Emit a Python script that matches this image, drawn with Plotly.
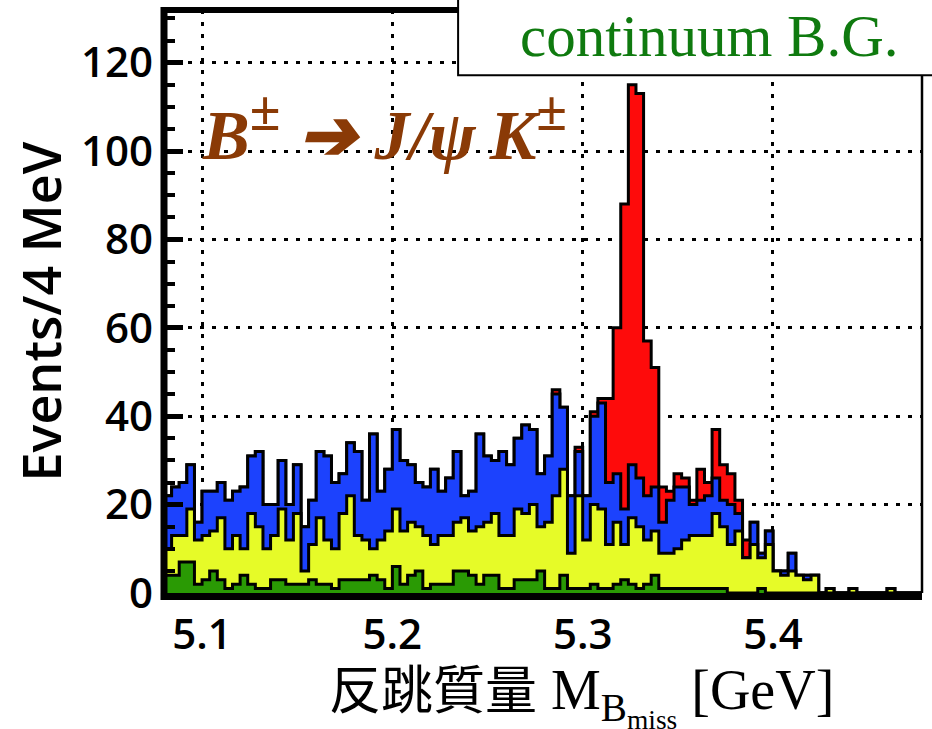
import numpy as np
import plotly.graph_objects as go

# 4 MeV bins from 5.08 GeV, 100 bins; each list is the top of one stacked histogram
bin_lo = 5.08
bin_w = 0.004

continuum_bg = [
    4, 4, 7, 7, 2, 3, 5, 3, 1, 2, 4, 2, 1, 1, 3, 3, 2, 2, 2, 3,
    2, 2, 1, 3, 3, 3, 3, 4, 3, 1, 6, 2, 4, 5, 1, 2, 2, 2, 5, 5,
    4, 2, 4, 4, 1, 1, 3, 3, 3, 5, 1, 1, 4, 1, 1, 1, 2, 1, 1, 2,
    3, 2, 1, 2, 4, 1, 1, 1, 1, 1, 1, 1, 1, 1, 0, 0, 0, 0, 1, 0,
    0, 0, 0, 0, 0, 0, 0, 0, 0, 0, 0, 0, 0, 0, 0, 0, 0, 0, 0, 0,
]
stack_yellow = [
    10, 13, 13, 19, 12, 13, 14, 17, 10, 13, 10, 18, 15, 10, 13, 19, 12, 18, 5, 11,
    17, 12, 10, 18, 22, 13, 12, 10, 12, 14, 19, 14, 16, 15, 13, 11, 13, 13, 16, 17,
    14, 15, 16, 18, 13, 13, 19, 18, 20, 15, 16, 22, 28, 9, 22, 12, 20, 19, 11, 16,
    11, 17, 15, 12, 14, 9, 9, 10, 12, 13, 13, 13, 18, 15, 11, 14, 8, 11, 8, 11,
    5, 4, 5, 4, 3, 4, 0, 1, 0, 0, 1, 0, 0, 0, 0, 1, 0, 0, 0, 0,
]
stack_blue = [
    22, 24, 25, 29, 16, 23, 23, 25, 21, 23, 24, 31, 32, 20, 20, 30, 20, 29, 15, 21,
    32, 31, 25, 27, 34, 32, 21, 36, 23, 28, 37, 30, 29, 25, 24, 28, 23, 26, 32, 22,
    23, 36, 31, 30, 32, 29, 35, 38, 37, 27, 31, 45, 42, 22, 32, 22, 40, 43, 25, 27,
    19, 29, 26, 22, 24, 16, 21, 24, 24, 20, 21, 22, 26, 21, 20, 18, 8, 16, 9, 14,
    5, 5, 9, 4, 4, 4, 0, 1, 0, 0, 1, 0, 0, 0, 0, 1, 0, 0, 0, 0,
]
stack_total = [
    22, 24, 25, 29, 16, 23, 23, 25, 21, 23, 24, 31, 32, 20, 20, 30, 20, 29, 15, 21,
    32, 31, 25, 27, 34, 32, 21, 36, 23, 28, 37, 30, 29, 25, 24, 28, 23, 26, 32, 22,
    23, 36, 31, 30, 32, 29, 35, 38, 37, 27, 31, 46, 42, 22, 33, 22, 41, 44, 44, 60,
    88, 115, 113, 57, 51, 24, 23, 27, 26, 21, 28, 25, 37, 29, 27, 21, 12, 16, 9, 14,
    5, 5, 9, 4, 4, 4, 0, 1, 0, 0, 1, 0, 0, 0, 0, 1, 0, 0, 0, 0,
]

x_ticks = [5.1, 5.2, 5.3, 5.4]
y_ticks = [0, 20, 40, 60, 80, 100, 120]

RED = "#fe0b0b"
BLUE = "#1c42fd"
YELLOW = "#e6fb28"
GREEN = "#2a9a04"
BROWN = "#8a3a06"
LABEL_GREEN = "#0f7a0f"

edges = bin_lo + bin_w * np.arange(len(stack_total) + 1)

fig = go.Figure()

for vals, col in [(stack_total, RED), (stack_blue, BLUE),
                  (stack_yellow, YELLOW), (continuum_bg, GREEN)]:
    fig.add_trace(go.Scatter(
        x=edges, y=list(vals) + [vals[-1]],
        mode="lines", line=dict(shape="hv", color="black", width=3),
        fill="tozeroy", fillcolor=col, showlegend=False, hoverinfo="skip",
    ))

tick_font = dict(family="Open Sans", size=42, color="black", weight=600)

fig.update_layout(
    width=932, height=729,
    paper_bgcolor="white", plot_bgcolor="white",
    margin=dict(l=164, r=10, t=10, b=136),
    showlegend=False,
    xaxis=dict(
        range=[5.08, 5.4783], tickmode="array", tickvals=x_ticks,
        ticktext=[f"{v:.1f}" for v in x_ticks],
        showgrid=True, gridcolor="black", gridwidth=3, griddash="4px,8px",
        zeroline=False, showline=False, ticks="",
        tickfont=tick_font, ticklabelstandoff=13,
    ),
    yaxis=dict(
        range=[0, 131.9], tickmode="array", tickvals=y_ticks,
        showgrid=True, gridcolor="black", gridwidth=3, griddash="4px,8px",
        zeroline=False, showline=False,
        ticks="inside", ticklen=19, tickwidth=5, tickcolor="black",
        minor=dict(ticks="inside", ticklen=11, tickwidth=4, tickcolor="black",
                   dtick=5, tick0=0, showgrid=False),
        tickfont=tick_font, ticklabelstandoff=10,
    ),
)

# frame: thick left/bottom/top, thin right
fig.add_shape(type="line", xref="paper", yref="paper", x0=1, x1=1, y0=0, y1=1,
              line=dict(color="black", width=2.5))
fig.add_shape(type="line", xref="paper", yref="paper", x0=0, x1=1, y0=1, y1=1,
              line=dict(color="black", width=6))
fig.add_shape(type="line", xref="paper", yref="paper", x0=0, x1=0, y0=-0.012, y1=1.005,
              line=dict(color="black", width=7))
fig.add_shape(type="line", xref="paper", yref="paper", x0=-0.004, x1=1.0, y0=-0.006, y1=-0.006,
              line=dict(color="black", width=7))

# label box
fig.add_shape(type="rect", xref="paper", yref="paper",
              x0=0.388, x1=1.03, y0=0.888, y1=1.03,
              fillcolor="white", line=dict(color="black", width=2))
fig.add_annotation(xref="paper", yref="paper", x=0.7197, y=0.955,
                   xanchor="center", yanchor="middle",
                   text="continuum B.G.", showarrow=False,
                   font=dict(family="Liberation Serif", size=59, color=LABEL_GREEN))

pm = "<sup><span style='font-size:56px'>±</span></sup>"
fig.add_annotation(xref="paper", yref="paper", x=0.047, y=0.80,
                   xanchor="left", yanchor="middle", showarrow=False,
                   text=f"<b><i>B{pm} ➔ J/ψ\u2009K{pm}</i></b>",
                   font=dict(family="Liberation Serif", size=70, color=BROWN))

fig.add_annotation(xref="paper", yref="paper", x=-0.1636, y=0.483,
                   xanchor="center", yanchor="middle",
                   textangle=-90, showarrow=False,
                   text="Events/4 MeV",
                   font=dict(family="Open Sans", size=52, color="black", weight=600))

fig.add_annotation(xref="paper", yref="paper", x=0.886, y=-0.17,
                   xanchor="right", yanchor="middle", showarrow=False,
                   text=("<span style='font-family:Noto Sans CJK JP;font-size:52px'>反跳質量</span> "
                         "M<sub>B<sub>miss</sub></sub> [GeV]"),
                   font=dict(family="Liberation Serif", size=56, color="black"))

fig.write_html("out.html", config={"displayModeBar": False},
               post_script="document.body.style.margin='0';")
